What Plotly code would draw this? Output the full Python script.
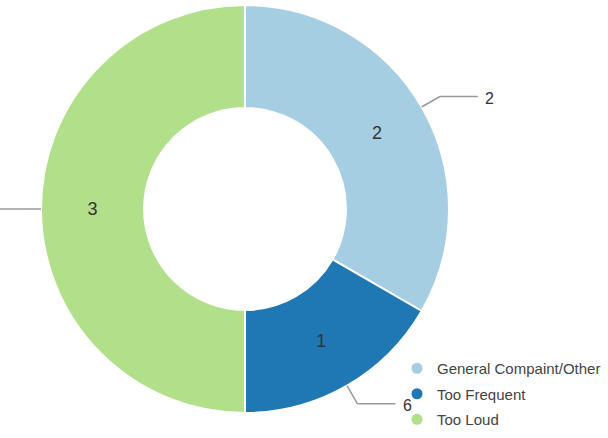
import math
import plotly.graph_objects as go

# ---- data ----
categories = ["General Compaint/Other", "Too Frequent", "Too Loud"]
values = [2, 1, 3]
outside_labels = ["2", "6", "3"]
colors = ["#a6cee3", "#1f78b4", "#b2df8a"]

# ---- layout geometry (pixels) ----
W, H = 608, 438
cx, cy, R = 245, 209, 204
hole = 0.495

fig = go.Figure()
fig.add_trace(go.Pie(
    labels=categories, values=values, sort=False, direction="clockwise", rotation=0,
    hole=hole, marker=dict(colors=colors, line=dict(color="white", width=2)),
    textinfo="value", textposition="inside", insidetextorientation="horizontal",
    textfont=dict(size=18, color="#333333", family="Liberation Sans, Arial"),
    domain=dict(x=[(cx - R) / W, (cx + R) / W], y=[1 - (cy + R) / H, 1 - (cy - R) / H]),
    showlegend=False, hoverinfo="label+value+percent",
))

# legend entries as circle markers
for name, col in zip(categories, colors):
    fig.add_trace(go.Scatter(x=[None], y=[None], mode="markers", name=name, legendgroup=name,
                             marker=dict(color=col, size=11, symbol="circle")))

# leader lines + outside labels computed from data
total = sum(values)
cum = 0
shapes, annotations = [], []
def P(px, py):
    return px / W, 1 - py / H
for v, lab in zip(values, outside_labels):
    mid = (cum + v / 2) / total * 2 * math.pi
    cum += v
    sx, sy = cx + R * math.sin(mid), cy - R * math.cos(mid)
    ex, ey = cx + (R + 21) * math.sin(mid), cy - (R + 21) * math.cos(mid)
    sign = 1 if math.sin(mid) >= 0 else -1
    hx = ex + sign * 38
    for (a, b), (c, d) in [((sx, sy), (ex, ey)), ((ex, ey), (hx, ey))]:
        x0, y0 = P(a, b); x1, y1 = P(c, d)
        shapes.append(dict(type="line", xref="paper", yref="paper", x0=x0, y0=y0, x1=x1, y1=y1,
                           line=dict(color="#999999", width=1.5)))
    if 0 <= hx <= W:
        lx, ly = P(hx + sign * 5, ey + 2)
        annotations.append(dict(x=lx, y=ly, xref="paper", yref="paper", text=lab, showarrow=False,
                                xanchor="left" if sign > 0 else "right", yanchor="middle",
                                font=dict(size=16, color="#333333", family="Liberation Sans, Arial")))

fig.update_layout(
    width=W, height=H, margin=dict(l=0, r=0, t=0, b=0),
    paper_bgcolor="white", plot_bgcolor="white",
    xaxis=dict(visible=False), yaxis=dict(visible=False),
    shapes=shapes, annotations=annotations,
    legend=dict(x=397 / W, y=1 - 352 / H, xanchor="left", yanchor="top",
                font=dict(size=15, color="#444444", family="Liberation Sans, Arial"),
                bgcolor="rgba(0,0,0,0)", itemwidth=30, tracegroupgap=3),
)

fig.write_html("out.html", config={"displayModeBar": False},
               post_script="document.body.style.margin='0';")
